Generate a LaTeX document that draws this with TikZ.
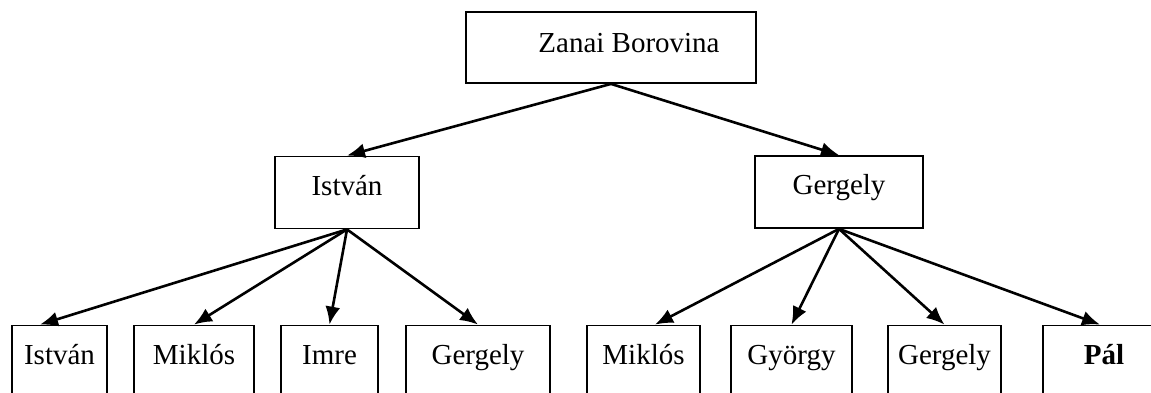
\documentclass[tikz,border=0pt]{standalone}
\usepackage{fontspec}
\setmainfont{Liberation Serif}
\usetikzlibrary{arrows.meta}

\begin{document}
\begin{tikzpicture}[x=0.5pt,y=-0.5pt,
  font=\fontsize{14.5pt}{17pt}\selectfont,
  famBox/.style={draw,line width=0.9pt,inner sep=0pt,minimum height=36pt,text height=11pt,text depth=8.5pt},
  famArrow/.style={line width=1.3pt,-{Latex[length=9pt,width=7.5pt]}}]
\clip (0,0) rectangle (1151,392);
% first generation
\node[famBox,minimum width=145pt,minimum height=35.5pt,text height=13pt,text depth=8.5pt] (zanai) at (611,47.5) {\hspace{18pt}Zanai Borovina};
% second generation
\node[famBox,minimum width=72pt] (istvan) at (347,192.5) {István};
\node[famBox,minimum width=84pt] (gergely) at (839,192) {Gergely};
% third generation
\node[famBox,minimum width=47.5pt] (istvanA) at (59.5,361.5) {István};
\node[famBox,minimum width=60pt] (miklosA) at (194,361.5) {Miklós};
\node[famBox,minimum width=48.5pt] (imreA) at (329.5,361.5) {Imre};
\node[famBox,minimum width=72pt] (gergelyA) at (478,361.5) {Gergely};
\node[famBox,minimum width=56.5pt] (miklosB) at (643.5,361.5) {Miklós};
\node[famBox,minimum width=60.5pt] (gyorgyB) at (791.5,361.5) {György};
\node[famBox,minimum width=56.5pt] (gergelyB) at (944.5,361.5) {Gergely};
\node[famBox,minimum width=61pt] (palB) at (1104,361.5) {\textbf{Pál}};
% arrows
\draw[famArrow] (zanai.south) -- (istvan.north);
\draw[famArrow] (zanai.south) -- (gergely.north);
\draw[famArrow] (istvan.south) -- ([xshift=-9.75pt]istvanA.north);
\draw[famArrow] (istvan.south) -- (miklosA.north);
\draw[famArrow] (istvan.south) -- (imreA.north);
\draw[famArrow] (istvan.south) -- (gergelyA.north);
\draw[famArrow] (gergely.south) -- ([xshift=5.75pt]miklosB.north);
\draw[famArrow] (gergely.south) -- (gyorgyB.north);
\draw[famArrow] (gergely.south) -- (gergelyB.north);
\draw[famArrow] (gergely.south) -- ([xshift=-2pt]palB.north);
\end{tikzpicture}
\end{document}
